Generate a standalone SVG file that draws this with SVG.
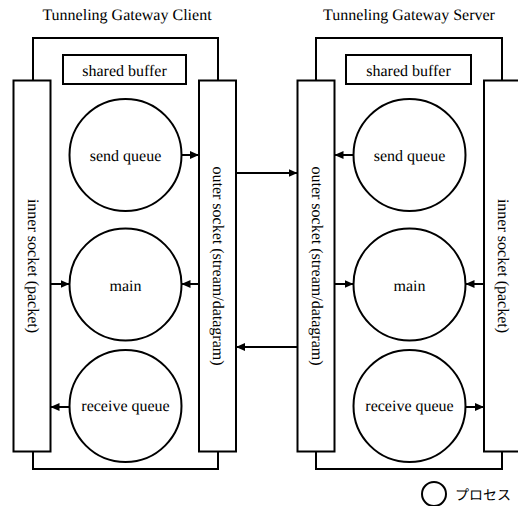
<svg xmlns="http://www.w3.org/2000/svg" width="518" height="506" viewBox="0 0 518 506">
<style>
text{text-rendering:geometricPrecision}
.s{fill:#fff;stroke:#000;stroke-width:2}
.f{fill:none;stroke:#000;stroke-width:2}
.t{font-family:"Liberation Serif","Times New Roman",serif;font-size:16px;fill:#000;text-anchor:middle}
.v{font-family:"Liberation Serif","Times New Roman",serif;font-size:16px;fill:#000;text-anchor:middle;dominant-baseline:central}
.c{stroke:#000;stroke-width:2;fill:none;marker-end:url(#ah)}
.j{font-family:"Liberation Serif","Noto Sans CJK JP",sans-serif;font-size:14px;fill:#000}
</style>
<defs>
<marker id="ah" markerUnits="userSpaceOnUse" markerWidth="9" markerHeight="8" refX="9" refY="4" orient="auto">
<path d="M0,0 L9,4 L0,8 z" fill="#000"/>
</marker>
</defs>
<rect width="518" height="506" fill="#fff"/>

<g id="client">
<text class="t" x="127" y="20">Tunneling Gateway Client</text>
<rect id="client-frame" class="f" x="33" y="38" width="185" height="431"/>
</g>
<g id="server">
<text class="t" x="409" y="20">Tunneling Gateway Server</text>
<rect id="server-frame" class="f" x="316" y="38" width="186" height="431"/>
</g>

<g id="client-inner-socket">
<rect class="s" x="13.5" y="80.5" width="37" height="371"/>
<text class="v" transform="translate(32,266) rotate(90)">inner socket (packet)</text>
</g>
<g id="client-outer-socket">
<rect class="s" x="199" y="80.5" width="37" height="371"/>
<text class="v" transform="translate(217.5,266) rotate(90)">outer socket (stream/datagram)</text>
</g>
<g id="client-shared-buffer">
<rect class="s" x="63" y="55" width="123" height="29"/>
<text class="t" x="124.5" y="76">shared buffer</text>
</g>
<g id="client-send-queue">
<circle class="s" cx="125.5" cy="155" r="56"/>
<text class="t" x="125.5" y="161">send queue</text>
</g>
<g id="client-main">
<circle class="s" cx="125.5" cy="284.5" r="56"/>
<text class="t" x="125.5" y="291">main</text>
</g>
<g id="client-receive-queue">
<circle class="s" cx="125.5" cy="406" r="56"/>
<text class="t" x="125.5" y="411">receive queue</text>
</g>

<g id="server-outer-socket">
<rect class="s" x="297.5" y="80.5" width="37" height="371"/>
<text class="v" transform="translate(316,266) rotate(90)">outer socket (stream/datagram)</text>
</g>
<g id="server-inner-socket">
<rect class="s" x="484" y="80.5" width="37" height="371"/>
<text class="v" transform="translate(502.5,266) rotate(90)">inner socket (packet)</text>
</g>
<g id="server-shared-buffer">
<rect class="s" x="346" y="55" width="125" height="29"/>
<text class="t" x="408.5" y="76">shared buffer</text>
</g>
<g id="server-send-queue">
<circle class="s" cx="409.5" cy="155" r="56"/>
<text class="t" x="409.5" y="161">send queue</text>
</g>
<g id="server-main">
<circle class="s" cx="409.5" cy="284.5" r="56"/>
<text class="t" x="409.5" y="291">main</text>
</g>
<g id="server-receive-queue">
<circle class="s" cx="409.5" cy="406" r="56"/>
<text class="t" x="409.5" y="411">receive queue</text>
</g>

<g id="connectors">
<line class="c" x1="181.5" y1="155" x2="199" y2="155"/>
<line class="c" x1="50.5" y1="284" x2="69.5" y2="284"/>
<line class="c" x1="199" y1="284" x2="181.5" y2="284"/>
<line class="c" x1="69.5" y1="407" x2="50.5" y2="407"/>
<line class="c" x1="236" y1="173" x2="297.5" y2="173"/>
<line class="c" x1="297.5" y1="347" x2="236" y2="347"/>
<line class="c" x1="353.5" y1="155" x2="334.5" y2="155"/>
<line class="c" x1="334.5" y1="284" x2="353.5" y2="284"/>
<line class="c" x1="484" y1="284" x2="465.5" y2="284"/>
<line class="c" x1="465.5" y1="407" x2="484" y2="407"/>
</g>

<g id="legend">
<circle class="f" cx="434" cy="494" r="12"/>
<text class="j" x="455" y="500">プロセス</text>
</g>
</svg>
